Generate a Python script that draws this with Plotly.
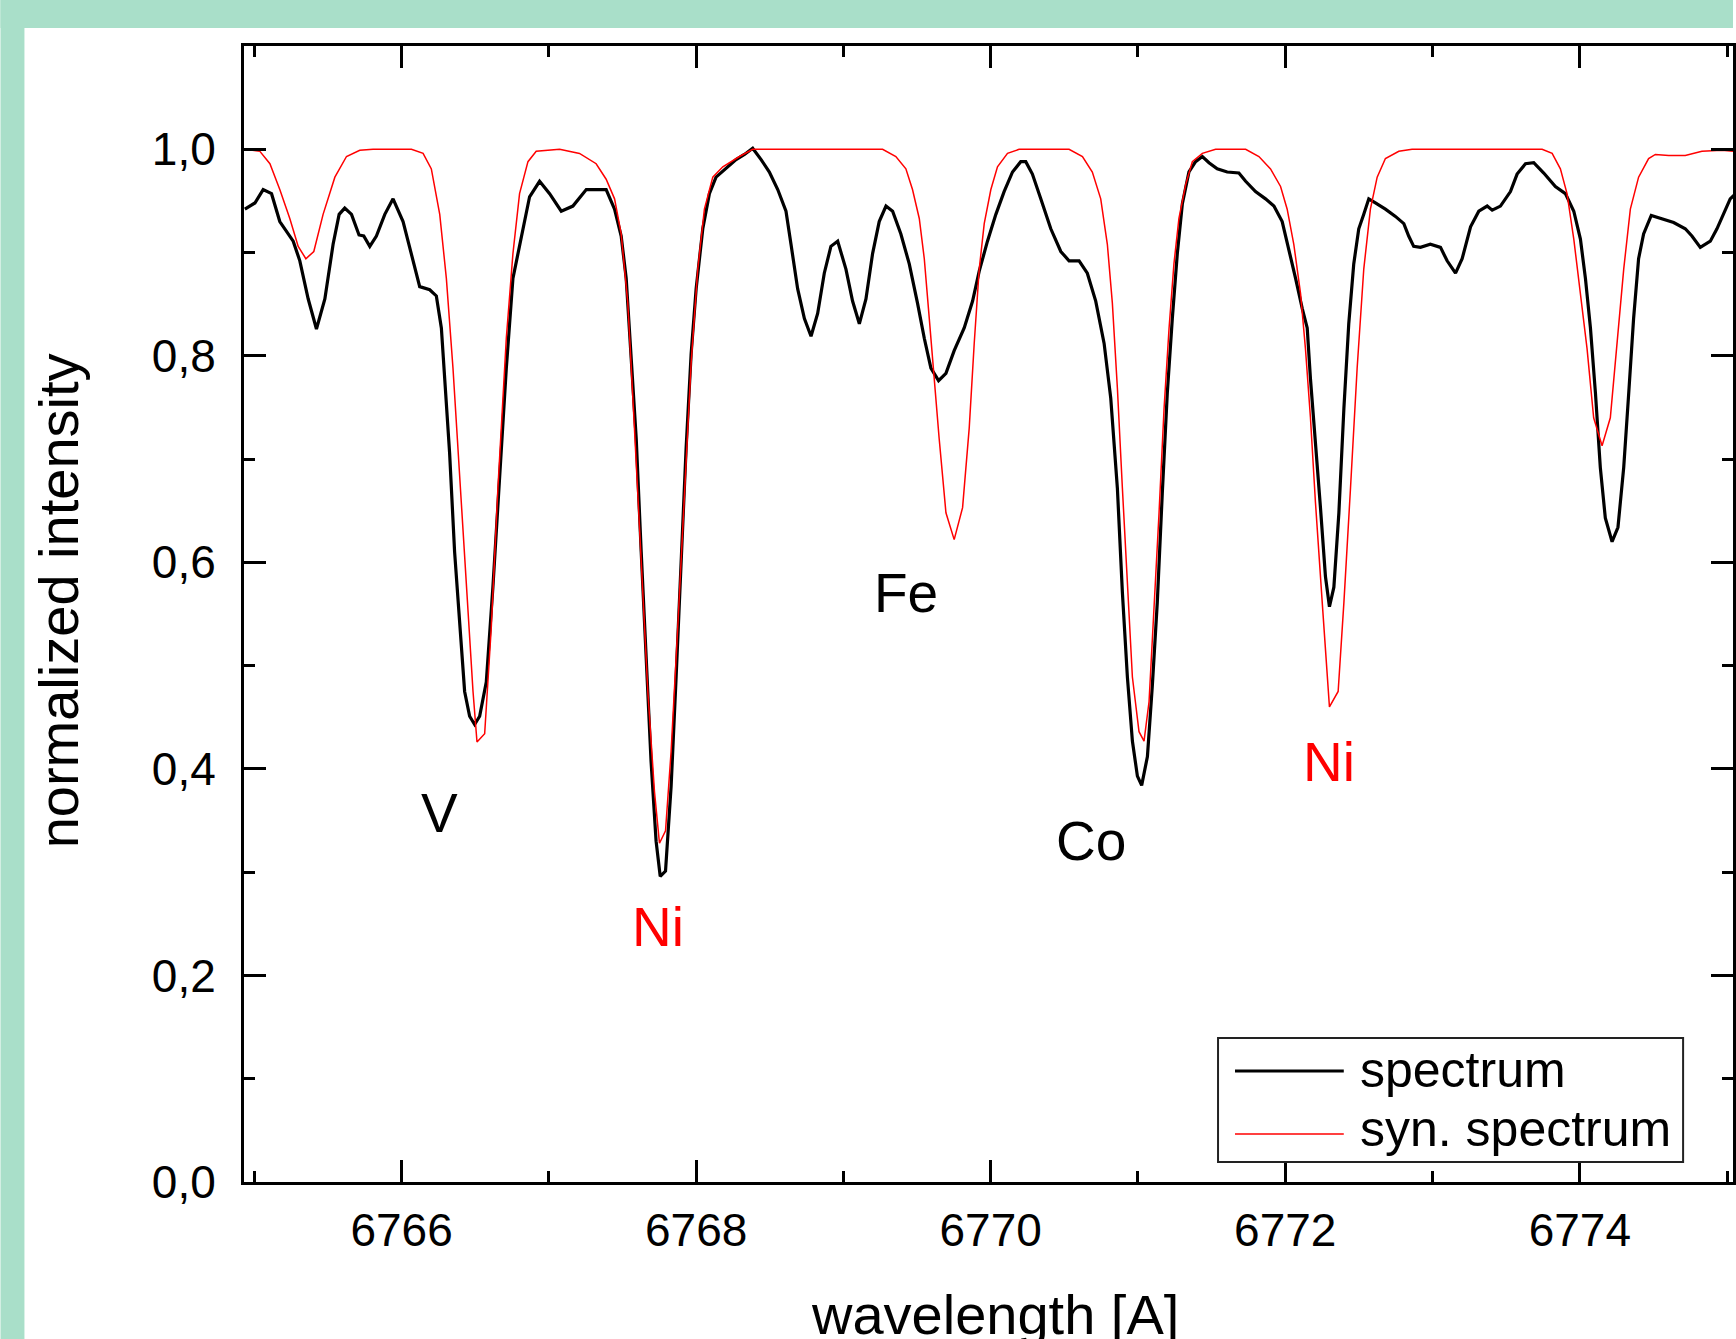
import plotly.graph_objects as go

# ---------------- data ----------------
wl_obs = [6764.936, 6765.004, 6765.060, 6765.117, 6765.173, 6765.264, 6765.309, 6765.366, 6765.422, 6765.479,
          6765.535, 6765.576, 6765.614, 6765.660, 6765.711, 6765.743, 6765.784, 6765.829, 6765.886, 6765.942,
          6766.010, 6766.067, 6766.123, 6766.191, 6766.236, 6766.270, 6766.293, 6766.326, 6766.360, 6766.394,
          6766.428, 6766.462, 6766.496, 6766.530, 6766.575, 6766.620, 6766.666, 6766.711, 6766.756, 6766.813,
          6766.869, 6766.937, 6767.005, 6767.084, 6767.163, 6767.254, 6767.321, 6767.389, 6767.446, 6767.491,
          6767.525, 6767.559, 6767.593, 6767.627, 6767.661, 6767.694, 6767.728, 6767.756, 6767.792, 6767.830,
          6767.864, 6767.898, 6767.932, 6767.966, 6768.000, 6768.045, 6768.090, 6768.135, 6768.203, 6768.271,
          6768.328, 6768.384, 6768.441, 6768.497, 6768.554, 6768.610, 6768.644, 6768.689, 6768.735, 6768.780,
          6768.825, 6768.870, 6768.915, 6768.961, 6769.017, 6769.062, 6769.108, 6769.153, 6769.198, 6769.243,
          6769.289, 6769.334, 6769.390, 6769.447, 6769.503, 6769.549, 6769.594, 6769.646, 6769.696, 6769.752,
          6769.820, 6769.877, 6769.922, 6769.978, 6770.035, 6770.091, 6770.148, 6770.204, 6770.238, 6770.283,
          6770.340, 6770.408, 6770.476, 6770.532, 6770.600, 6770.656, 6770.713, 6770.770, 6770.815, 6770.860,
          6770.894, 6770.928, 6770.962, 6770.996, 6771.025, 6771.064, 6771.097, 6771.131, 6771.165, 6771.199,
          6771.233, 6771.267, 6771.301, 6771.346, 6771.391, 6771.437, 6771.482, 6771.538, 6771.606, 6771.685,
          6771.731, 6771.798, 6771.866, 6771.923, 6771.979, 6772.024, 6772.070, 6772.115, 6772.149, 6772.171,
          6772.205, 6772.239, 6772.273, 6772.300, 6772.330, 6772.364, 6772.398, 6772.431, 6772.465, 6772.499,
          6772.533, 6772.567, 6772.612, 6772.680, 6772.748, 6772.805, 6772.838, 6772.872, 6772.918, 6772.985,
          6773.054, 6773.099, 6773.156, 6773.201, 6773.258, 6773.314, 6773.371, 6773.405, 6773.461, 6773.529,
          6773.574, 6773.631, 6773.687, 6773.755, 6773.834, 6773.902, 6773.959, 6774.004, 6774.038, 6774.072,
          6774.106, 6774.139, 6774.173, 6774.219, 6774.259, 6774.298, 6774.332, 6774.365, 6774.399, 6774.433,
          6774.485, 6774.558, 6774.637, 6774.716, 6774.761, 6774.818, 6774.886, 6774.931, 6774.976, 6775.021,
          6775.051]
flux_obs = [0.942, 0.948, 0.961, 0.957, 0.930, 0.911, 0.892, 0.855, 0.826, 0.855,
            0.908, 0.937, 0.943, 0.937, 0.917, 0.916, 0.906, 0.916, 0.937, 0.952,
            0.930, 0.899, 0.867, 0.864, 0.858, 0.827, 0.778, 0.706, 0.610, 0.537,
            0.475, 0.451, 0.443, 0.451, 0.484, 0.576, 0.682, 0.788, 0.875, 0.916,
            0.954, 0.969, 0.957, 0.940, 0.945, 0.961, 0.961, 0.961, 0.942, 0.916,
            0.875, 0.802, 0.720, 0.610, 0.513, 0.407, 0.330, 0.296, 0.301, 0.383,
            0.489, 0.600, 0.711, 0.802, 0.865, 0.923, 0.957, 0.973, 0.981, 0.990,
            0.995, 1.001, 0.990, 0.978, 0.961, 0.940, 0.908, 0.865, 0.836, 0.819,
            0.841, 0.880, 0.906, 0.911, 0.884, 0.853, 0.831, 0.855, 0.899, 0.930,
            0.945, 0.940, 0.918, 0.889, 0.851, 0.817, 0.788, 0.776, 0.783, 0.805,
            0.827, 0.853, 0.882, 0.911, 0.937, 0.959, 0.978, 0.988, 0.988, 0.976,
            0.952, 0.923, 0.901, 0.892, 0.892, 0.880, 0.853, 0.812, 0.759, 0.672,
            0.571, 0.489, 0.427, 0.393, 0.384, 0.412, 0.480, 0.561, 0.667, 0.764,
            0.836, 0.899, 0.947, 0.978, 0.988, 0.993, 0.987, 0.981, 0.978, 0.977,
            0.969, 0.959, 0.952, 0.945, 0.930, 0.904, 0.875, 0.846, 0.827, 0.778,
            0.720, 0.653, 0.586, 0.557, 0.576, 0.648, 0.749, 0.831, 0.889, 0.923,
            0.937, 0.952, 0.948, 0.942, 0.935, 0.928, 0.916, 0.906, 0.905, 0.908,
            0.905, 0.892, 0.880, 0.894, 0.925, 0.940, 0.945, 0.941, 0.945, 0.959,
            0.976, 0.986, 0.987, 0.977, 0.964, 0.957, 0.940, 0.913, 0.875, 0.827,
            0.764, 0.692, 0.643, 0.620, 0.634, 0.692, 0.764, 0.836, 0.894, 0.918,
            0.936, 0.933, 0.929, 0.923, 0.916, 0.905, 0.911, 0.923, 0.937, 0.952,
            0.956]

wl_syn = [6764.936, 6765.038, 6765.106, 6765.173, 6765.241, 6765.298, 6765.350, 6765.404, 6765.467, 6765.547,
          6765.626, 6765.716, 6765.806, 6766.067, 6766.146, 6766.202, 6766.259, 6766.304, 6766.349, 6766.394,
          6766.440, 6766.485, 6766.512, 6766.564, 6766.609, 6766.654, 6766.711, 6766.756, 6766.801, 6766.858,
          6766.914, 6767.073, 6767.208, 6767.321, 6767.389, 6767.446, 6767.491, 6767.536, 6767.581, 6767.627,
          6767.672, 6767.717, 6767.751, 6767.792, 6767.830, 6767.875, 6767.921, 6767.966, 6768.011, 6768.056,
          6768.113, 6768.181, 6768.294, 6768.384, 6769.266, 6769.356, 6769.424, 6769.469, 6769.515, 6769.549,
          6769.583, 6769.616, 6769.650, 6769.696, 6769.752, 6769.809, 6769.854, 6769.888, 6769.922, 6769.956,
          6770.001, 6770.046, 6770.114, 6770.193, 6770.532, 6770.623, 6770.690, 6770.747, 6770.792, 6770.826,
          6770.860, 6770.894, 6770.928, 6770.962, 6771.007, 6771.041, 6771.075, 6771.109, 6771.143, 6771.177,
          6771.211, 6771.244, 6771.278, 6771.324, 6771.369, 6771.437, 6771.527, 6771.731, 6771.821, 6771.900,
          6771.968, 6772.013, 6772.058, 6772.104, 6772.137, 6772.171, 6772.205, 6772.251, 6772.300, 6772.359,
          6772.398, 6772.443, 6772.488, 6772.533, 6772.578, 6772.624, 6772.680, 6772.771, 6772.861, 6773.744,
          6773.812, 6773.868, 6773.913, 6773.959, 6774.004, 6774.049, 6774.094, 6774.151, 6774.207, 6774.253,
          6774.298, 6774.343, 6774.399, 6774.467, 6774.513, 6774.603, 6774.716, 6774.829, 6774.965, 6775.051]
flux_syn = [1.000, 0.998, 0.986, 0.961, 0.933, 0.906, 0.894, 0.901, 0.937, 0.973,
            0.993, 0.999, 1.000, 1.000, 0.996, 0.981, 0.937, 0.875, 0.788, 0.682,
            0.576, 0.475, 0.426, 0.434, 0.537, 0.672, 0.817, 0.899, 0.957, 0.988,
            0.998, 1.000, 0.996, 0.986, 0.971, 0.952, 0.918, 0.851, 0.730, 0.605,
            0.475, 0.378, 0.328, 0.340, 0.417, 0.537, 0.672, 0.793, 0.884, 0.942,
            0.973, 0.983, 0.993, 1.000, 1.000, 0.993, 0.981, 0.961, 0.933, 0.894,
            0.836, 0.778, 0.720, 0.648, 0.622, 0.653, 0.730, 0.812, 0.884, 0.928,
            0.961, 0.983, 0.996, 1.000, 1.000, 0.993, 0.978, 0.952, 0.908, 0.851,
            0.769, 0.672, 0.576, 0.489, 0.436, 0.427, 0.465, 0.552, 0.648, 0.749,
            0.827, 0.889, 0.933, 0.966, 0.988, 0.996, 1.000, 1.000, 0.993, 0.981,
            0.964, 0.942, 0.908, 0.860, 0.807, 0.740, 0.658, 0.561, 0.460, 0.475,
            0.561, 0.672, 0.788, 0.884, 0.942, 0.973, 0.991, 0.998, 1.000, 1.000,
            0.996, 0.981, 0.957, 0.913, 0.860, 0.807, 0.740, 0.713, 0.740, 0.812,
            0.884, 0.942, 0.973, 0.991, 0.995, 0.994, 0.994, 0.998, 0.999, 0.998]

series_names = ["spectrum", "syn. spectrum"]

x_tick_vals = [6766, 6768, 6770, 6772, 6774]
x_tick_text = ["6766", "6768", "6770", "6772", "6774"]
x_minor_vals = [6765, 6767, 6769, 6771, 6773, 6775]
y_tick_vals = [0.0, 0.2, 0.4, 0.6, 0.8, 1.0]
y_tick_text = ["0,0", "0,2", "0,4", "0,6", "0,8", "1,0"]
y_minor_vals = [0.1, 0.3, 0.5, 0.7, 0.9, 1.1]

line_labels = ["V", "Ni", "Fe", "Co", "Ni"]
line_label_x = [6766.26, 6767.742, 6769.424, 6770.679, 6772.300]
line_label_y = [0.357, 0.2465, 0.570, 0.330, 0.407]
line_label_colors = ["black", "red", "black", "black", "red"]

x_title = "wavelength [A]"
y_title = "normalized intensity"

# ---------------- figure ----------------
FONT = "Liberation Sans, Arial, Helvetica, sans-serif"
W, H = 1736, 1339
L, R, T, B = 244, 0, 46, 157
PW, PH = W - L - R, H - T - B


def px_x(p):
    return (p - L) / PW


def px_y(p):
    return (H - B - p) / PH


fig = go.Figure()
fig.add_trace(go.Scatter(x=wl_obs, y=flux_obs, mode="lines", name=series_names[0],
                         line=dict(color="black", width=3.2), showlegend=False))
fig.add_trace(go.Scatter(x=wl_syn, y=flux_syn, mode="lines", name=series_names[1],
                         line=dict(color="#ff0000", width=1.5), showlegend=False))

teal = "#a9dfc9"
shapes = [
    dict(type="rect", xref="paper", yref="paper", x0=px_x(0), x1=px_x(W), y0=px_y(28), y1=px_y(0),
         fillcolor=teal, line=dict(width=0), layer="below"),
    dict(type="rect", xref="paper", yref="paper", x0=px_x(0), x1=px_x(24), y0=px_y(H), y1=px_y(0),
         fillcolor=teal, line=dict(width=0), layer="below"),
    # legend box
    dict(type="rect", xref="paper", yref="paper", x0=px_x(1220), x1=px_x(1686), y0=px_y(1162), y1=px_y(1038),
         fillcolor="white", line=dict(color="#222222", width=2), layer="above"),
    dict(type="line", xref="paper", yref="paper", x0=px_x(1237), x1=px_x(1346), y0=px_y(1071), y1=px_y(1071),
         line=dict(color="black", width=3)),
    dict(type="line", xref="paper", yref="paper", x0=px_x(1237), x1=px_x(1346), y0=px_y(1134), y1=px_y(1134),
         line=dict(color="#ff0000", width=1.5)),
]

annotations = []
for t, xv, yv, c in zip(line_labels, line_label_x, line_label_y, line_label_colors):
    annotations.append(dict(x=xv, y=yv, xref="x", yref="y", text=t, showarrow=False,
                            font=dict(family=FONT, size=55, color=c), xanchor="center", yanchor="middle"))
# legend texts
annotations.append(dict(x=px_x(1360), y=px_y(1070), xref="paper", yref="paper", text=series_names[0],
                        showarrow=False, xanchor="left", yanchor="middle",
                        font=dict(family=FONT, size=50, color="black")))
annotations.append(dict(x=px_x(1360), y=px_y(1129), xref="paper", yref="paper", text=series_names[1],
                        showarrow=False, xanchor="left", yanchor="middle",
                        font=dict(family=FONT, size=50, color="black")))
# axis titles
annotations.append(dict(x=px_x(997), y=px_y(1281), xref="paper", yref="paper", text=x_title,
                        showarrow=False, xanchor="center", yanchor="top",
                        font=dict(family=FONT, size=56, color="black")))
annotations.append(dict(x=px_x(58), y=px_y(601), xref="paper", yref="paper", text=y_title,
                        showarrow=False, xanchor="center", yanchor="middle", textangle=-90,
                        font=dict(family=FONT, size=56, color="black")))

axis_common = dict(showline=True, linecolor="black", linewidth=3, mirror="ticks",
                   ticks="inside", ticklen=22, tickwidth=3, tickcolor="black",
                   showgrid=False, zeroline=False,
                   tickfont=dict(family=FONT, size=46, color="black"))

fig.update_layout(
    width=W, height=H,
    margin=dict(l=L, r=R, t=T, b=B, pad=0),
    paper_bgcolor="white", plot_bgcolor="white",
    showlegend=False,
    shapes=shapes, annotations=annotations,
    xaxis=dict(range=[6764.93, 6775.04], tickmode="array", tickvals=x_tick_vals, ticktext=x_tick_text,
               ticklabelstandoff=6,
               minor=dict(tickmode="array", tickvals=x_minor_vals, ticks="inside", ticklen=11,
                          tickwidth=3, tickcolor="black", showgrid=False),
               **axis_common),
    yaxis=dict(range=[0, 1.1], tickmode="array", tickvals=y_tick_vals, ticktext=y_tick_text,
               ticklabelstandoff=16,
               minor=dict(tickmode="array", tickvals=y_minor_vals, ticks="inside", ticklen=11,
                          tickwidth=3, tickcolor="black", showgrid=False),
               **axis_common),
)

fig.write_html("out.html", config={"displayModeBar": False},
               post_script="document.body.style.margin='0';document.body.style.overflow='hidden';")
